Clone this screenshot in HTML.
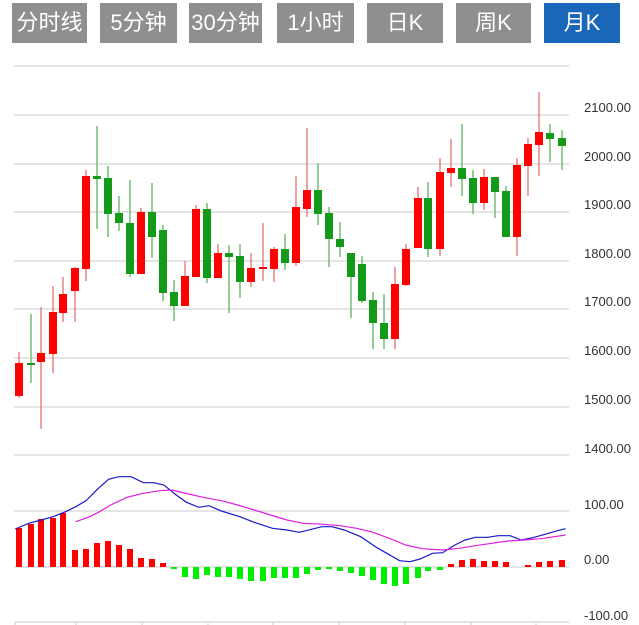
<!DOCTYPE html>
<html><head><meta charset="utf-8"><style>
html,body{margin:0;padding:0;background:#fff;width:639px;height:625px;overflow:hidden}
.b{position:absolute;top:3px;height:40px;background:#8f8f8f;color:#fff;font:22px "Liberation Sans","Noto Sans CJK SC",sans-serif;line-height:40px;text-align:center}
svg{position:absolute;left:0;top:0}
</style></head><body>
<div class="b" style="left:12px;width:75px">分时线</div>
<div class="b" style="left:100px;width:77px">5分钟</div>
<div class="b" style="left:189px;width:73px">30分钟</div>
<div class="b" style="left:277px;width:77px">1小时</div>
<div class="b" style="left:367px;width:76px">日K</div>
<div class="b" style="left:456px;width:75px">周K</div>
<div class="b" style="left:544px;width:76px;background:#1a66b8">月K</div>
<svg id="s" width="639" height="625" xmlns="http://www.w3.org/2000/svg" font-family="Liberation Sans, sans-serif" font-size="13" fill="#333">
<g stroke="#dcdcdc" stroke-width="1.5">
<line x1="14" x2="569" y1="66" y2="66"/><line x1="14" x2="569" y1="115" y2="115"/><line x1="14" x2="569" y1="164" y2="164"/><line x1="14" x2="569" y1="212" y2="212"/><line x1="14" x2="569" y1="261" y2="261"/><line x1="14" x2="569" y1="309" y2="309"/><line x1="14" x2="569" y1="358" y2="358"/><line x1="14" x2="569" y1="407" y2="407"/><line x1="14" x2="569" y1="455" y2="455"/><line x1="14" x2="569" y1="511" y2="511"/><line x1="14" x2="569" y1="567" y2="567"/><line x1="14" x2="569" y1="622" y2="622"/>
<line x1="15" x2="15" y1="622" y2="626"/><line x1="76" x2="76" y1="622" y2="626"/><line x1="142" x2="142" y1="622" y2="626"/><line x1="208" x2="208" y1="622" y2="626"/><line x1="273" x2="273" y1="622" y2="626"/><line x1="339" x2="339" y1="622" y2="626"/><line x1="405" x2="405" y1="622" y2="626"/><line x1="471" x2="471" y1="622" y2="626"/><line x1="536" x2="536" y1="622" y2="626"/>
</g>
<text x="584" y="112">2100.00</text><text x="584" y="161">2000.00</text><text x="584" y="209">1900.00</text><text x="584" y="258">1800.00</text><text x="584" y="306">1700.00</text><text x="584" y="355">1600.00</text><text x="584" y="404">1500.00</text><text x="584" y="453">1400.00</text>
<text x="584" y="509">100.00</text><text x="584" y="564">0.00</text><text x="584" y="620">-100.00</text>
<g id="c"></g>
</svg>
<script>
var C=[[19,1,363,396,352,398],[31,0,363,365,314,383],[41,1,353,362,307,429],[53,1,312,354,286,373],[63,1,294,313,277,322],[75,1,268,291,267,322],[86,1,176,269,170,281],[97,0,176,179,126,229],[108,0,178,214,166,237],[119,0,213,223,196,231],[130,0,223,274,180,277],[141,1,212,274,208,274],[152,0,212,237,183,258],[163,0,230,293,225,301],[174,0,292,306,280,321],[185,1,276,306,261,306],[196,1,209,277,205,277],[207,0,209,278,203,283],[218,1,253,278,244,278],[229,0,253,257,245,313],[240,0,256,282,244,298],[251,1,268,282,253,287],[263,1,267,269,223,281],[274,1,249,269,247,282],[285,0,249,263,234,270],[296,1,207,263,176,266],[307,1,190,209,128,217],[318,0,190,214,163,225],[329,0,213,239,207,267],[340,0,239,247,222,257],[351,0,253,277,253,318],[362,0,264,301,256,303],[373,0,300,323,292,349],[384,0,323,339,294,349],[395,1,284,339,267,349],[406,1,249,285,244,286],[418,1,198,248,187,248],[428,0,198,249,182,257],[440,1,172,249,158,256],[451,1,168,173,139,187],[462,0,168,179,124,196],[473,0,178,203,170,214],[484,1,177,203,169,210],[495,0,177,192,177,218],[506,0,191,237,186,237],[517,1,165,237,158,256],[528,1,144,166,138,196],[539,1,132,145,92,176],[550,0,133,139,124,162],[562,0,138,146,130,170]];
var M=[528,524,519,518,513,550,549,543,541,545,549,558,559,563,569,577,579,575,577,577,579,581,581,578,578,578,574,570,569,571,573,576,580,584,586,584,578,571,570,564,560,559,561,561,562,567,565,562,561,560];
var h='';
C.forEach(function(c,i){var col=c[1]?'#ff0000':'#139a18',wc=c[1]?'#e87070':'#5fb35f';
h+='<line x1="'+c[0]+'" x2="'+c[0]+'" y1="'+c[4]+'" y2="'+c[5]+'" stroke="'+wc+'" stroke-width="1.3"/>';
h+='<rect x="'+(c[0]-4)+'" y="'+c[2]+'" width="8" height="'+Math.max(2,c[3]-c[2])+'" fill="'+col+'"/>';
var m=M[i];if(m!=567){var up=m<567;h+='<rect x="'+(c[0]-3)+'" y="'+(up?m:567)+'" width="6" height="'+Math.abs(m-567)+'" fill="'+(up?'#ff0000':'#00ee00')+'"/>';}
});
function pl(a,col){return '<polyline fill="none" stroke="'+col+'" stroke-width="1.2" points="'+a.map(function(p){return (p[0]/2.44).toFixed(1)+','+(p[1]/3+440).toFixed(1)}).join(' ')+'"/>';}
h+=pl([[37,267],[70,250],[100,240],[130,230],[160,215],[185,200],[210,182],[240,145],[265,118],[290,110],[320,110],[350,128],[375,128],[400,135],[430,165],[455,187],[485,202],[510,197],[540,213],[585,230],[620,247],[665,265],[700,270],[730,277],[760,268],[785,260],[810,260],[840,270],[880,290],[920,323],[975,362],[1000,365],[1025,357],[1055,340],[1080,338],[1110,315],[1135,300],[1160,292],[1190,292],[1215,287],[1245,287],[1272,300],[1300,293],[1330,283],[1360,272],[1380,266]],'#1a1acc');
h+=pl([[185,245],[215,232],[240,217],[270,195],[310,172],[350,160],[390,152],[420,150],[460,162],[500,173],[540,182],[580,195],[620,210],[660,225],[700,240],[740,250],[790,253],[830,257],[870,265],[910,277],[950,295],[990,315],[1030,326],[1080,330],[1120,325],[1160,317],[1200,310],[1240,303],[1280,300],[1320,296],[1380,285]],'#e020e0');
document.getElementById('c').innerHTML=h;
</script>
</body></html>
